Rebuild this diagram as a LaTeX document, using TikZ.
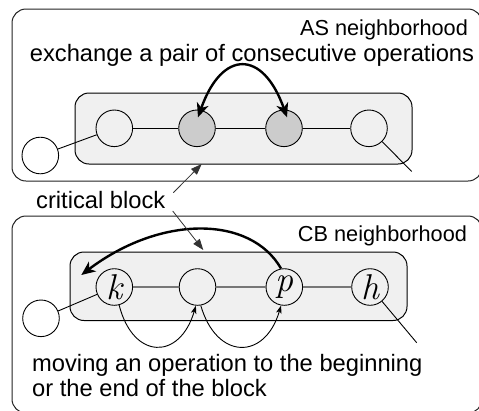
\documentclass[tikz,border=0pt]{standalone}
\usepackage{fontspec}
\setsansfont{Liberation Sans}
\usetikzlibrary{arrows.meta,calc}
\definecolor{blockfill}{HTML}{F0F0F0}
\definecolor{opfill}{HTML}{CCCCCC}
\definecolor{linkgray}{HTML}{777777}
\definecolor{edgedark}{HTML}{222222}
\definecolor{ptrgray}{HTML}{333333}
\newfontfamily\oplabelfont{Latin Modern Roman}
\begin{document}
\begin{tikzpicture}[x=1bp,y=-1bp,
  outerbox/.style={draw=edgedark, fill=white, line width=1bp, rounded corners=14bp},
  blockbox/.style={draw=black, fill=blockfill, line width=1bp, rounded corners=14bp},
  op/.style={circle, draw=black, line width=0.9bp, minimum size=36.6bp, inner sep=0pt},
  oplabel/.style={font=\oplabelfont\itshape\fontsize{36}{36}\selectfont},
  opout/.style={op, fill=white},
  opshade/.style={op, fill=opfill},
  link/.style={draw=black, line width=0.9bp},
  graylink/.style={draw=linkgray, line width=1.3bp},
  bigtext/.style={inner sep=0pt, font=\sffamily\fontsize{23.8}{25}\selectfont},
  labeltext/.style={inner sep=0pt, font=\sffamily\fontsize{21.8}{24}\selectfont},
  bigarrow/.style={line width=2.4bp, draw=black},
  bigtip/.tip={Stealth[length=14bp,width=12bp,inset=4bp]},
  thinarrow/.style={line width=0.9bp, draw=black, -{Stealth[length=8bp,width=5.5bp,inset=2bp]}},
  ptrarrow/.style={line width=0.8bp, draw=ptrgray, -{Triangle[length=11bp,width=8bp]}}
]
\clip (0,0) rectangle (479,410);
\useasboundingbox (0,0) rectangle (479,410);
\fill[white] (0,0) rectangle (479,410);

% ---------- AS neighborhood ----------
\draw[outerbox] (12,9) rectangle (482,181);
\draw[blockbox] (75,93) rectangle (412,164);
\node[labeltext, anchor=base] (aslabel) at (384,35) {AS neighborhood};
\node[bigtext, anchor=base] (astext) at (252,61.7) {exchange a pair of consecutive operations};

\node[opout] (al) at (40.3,155.5) {};
\node[op] (a1) at (114.3,128.3) {};
\node[opshade] (a2) at (197,128.3) {};
\node[opshade] (a3) at (284,128.3) {};
\node[op] (a4) at (369,128.3) {};
\coordinate (aend) at (411.7,171.5);

\draw[link] (al) -- (a1);
\draw[link] (a1) -- (a2);
\draw[link] (a2) -- (a3);
\draw[link] (a3) -- (a4);
\draw[link] (a4) -- (aend);

\draw[bigarrow, bigtip-bigtip] ($(a2)+(1,-11)$) .. controls ($(a2)+(25,-79)$) and ($(a3)+(-21,-79)$) .. ($(a3)+(3,-11)$);

% ---------- CB neighborhood ----------
\draw[outerbox] (12,216) rectangle (482,413);
\draw[blockbox] (70,252) rectangle (407,320.5);
\node[labeltext, anchor=base] (cblabel) at (382.5,241.7) {CB neighborhood};

\node[opout] (bl) at (41,318.3) {};
\node[op, oplabel] (k) at (114.3,287) {k};
\node[op] (m) at (197.5,287) {};
\node[op, oplabel] (p) at (284.3,287) {p};
\node[op, oplabel] (h) at (370,287) {h};
\coordinate (bend) at (416.7,342.7);

\draw[link] (bl) -- (k);
\draw[graylink] (k) -- (m);
\draw[graylink] (m) -- (p);
\draw[graylink] (p) -- (h);
\draw[link] (h) -- (bend);

\draw[bigarrow, -bigtip] (p.100) .. controls ($(p)+(-34,-72)$) and ($(k)+(46,-72)$) .. ($(k)+(-33,-12)$);

\draw[thinarrow] (k.-75) .. controls +(14,55) and +(-16,55) .. (m.-95);
\draw[thinarrow] (m.-80) .. controls +(16,55) and +(-16,55) .. (p.-100);

\node[bigtext, anchor=base west] (mv1) at (32,371.7) {moving an operation to the beginning};
\node[bigtext, anchor=base west] (mv2) at (32,396.7) {or the end of the block};

% ---------- critical block ----------
\node[bigtext, anchor=base west] (crit) at (36,208) {critical block};
\coordinate (critup) at (173.3,192.7);
\coordinate (critdown) at (172.7,211);
\coordinate (blockA) at (201.7,164);
\coordinate (blockB) at (203.3,250);
\draw[ptrarrow] (critup) -- (blockA);
\draw[ptrarrow] (critdown) -- (blockB);
\end{tikzpicture}
\end{document}
